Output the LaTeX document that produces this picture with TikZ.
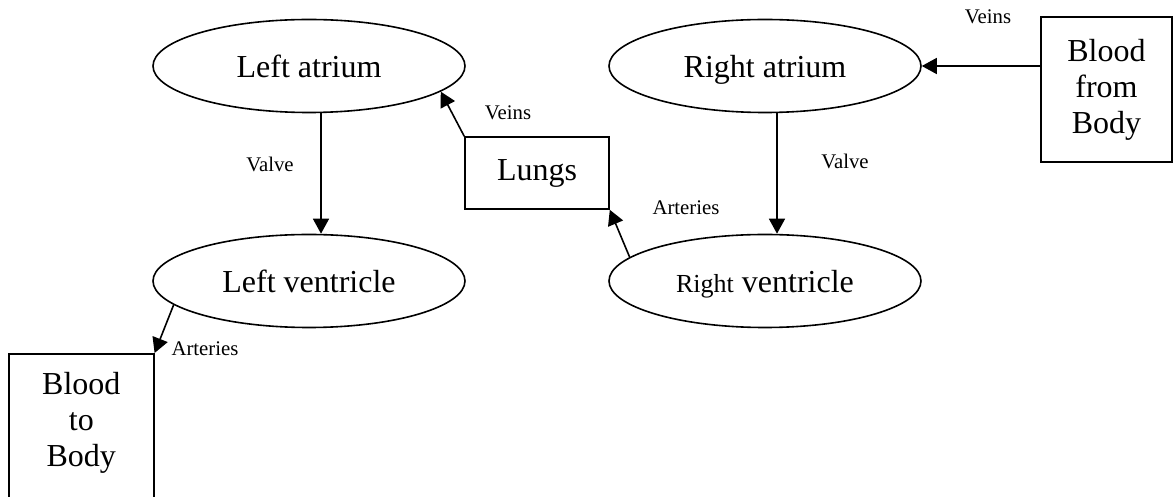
\documentclass[tikz,border=0pt]{standalone}
\usepackage{fontspec}
\setmainfont{Liberation Serif}
\usetikzlibrary{shapes.geometric,arrows.meta,calc}

\tikzset{
    chamber/.style={draw,
        ellipse,
        line width=0.8pt,
        minimum width=156pt,
        minimum height=46.5pt,
        inner sep=0pt,
        text depth=0pt,
        font=\fontsize{16}{18}\selectfont},
    organ/.style={draw,
        rectangle,
        line width=0.8pt,
        align=center,
        inner sep=0pt,
        font=\fontsize{16}{18}\selectfont},
    vessel/.style={inner sep=0pt,
        font=\fontsize{10.4}{12}\selectfont},
    flow/.style={line width=0.8pt,
        -{Triangle[length=7.5pt,width=8pt]}}
}

\begin{document}
\begin{tikzpicture}[x=0.5pt,y=-0.5pt]
                \useasboundingbox (0,0) rectangle (1175,497);
                % Chambers
                \node [chamber] (LA) at (309,66) {Left atrium};
                \node [chamber] (LV) at (309,281) {Left ventricle};
                \node [chamber] (RA) at (765,66) {Right atrium};
                \node [chamber] (RV) at (765,281)
                    {{\fontsize{13}{15}\selectfont Right} ventricle};
                % Lungs and body
                \node [organ,
                    minimum width=72pt,
                    minimum height=36pt] (Lungs) at (537,173) {Lungs};
                \node [organ,
                    minimum width=65.5pt,
                    minimum height=72.5pt] (FromBody) at (1106.5,89.5)
                    {Blood\\from\\Body};
                \node [organ,
                    anchor=north west,
                    minimum width=72.5pt,
                    minimum height=80pt,
                    inner ysep=9pt,
                    text depth=30pt] (ToBody) at (8,353)
                    {Blood\\to\\Body};
                % Flow
                \draw [flow] (RA.east -| FromBody.west) -- (RA.east);
                \draw [flow] ($(RA.south)+(12,0)$) -- ($(RV.north)+(12,0)$);
                \draw [flow] (RV.170) -- (Lungs.south east);
                \draw [flow] (Lungs.north west) -- (LA.-11);
                \draw [flow] ($(LA.south)+(12,0)$) -- ($(LV.north)+(12,0)$);
                \draw [flow] (LV.190) -- (ToBody.north east);
                % Vessel labels
                \node [vessel] (veinsBody) at (988,17) {Veins};
                \node [vessel] (valveR) at (845,161) {Valve};
                \node [vessel] (arteriesLungs) at (686,208) {Arteries};
                \node [vessel] (veinsLungs) at (508,113) {Veins};
                \node [vessel] (valveL) at (270,164) {Valve};
                \node [vessel] (arteriesBody) at (205,349) {Arteries};
            \end{tikzpicture}
\end{document}
